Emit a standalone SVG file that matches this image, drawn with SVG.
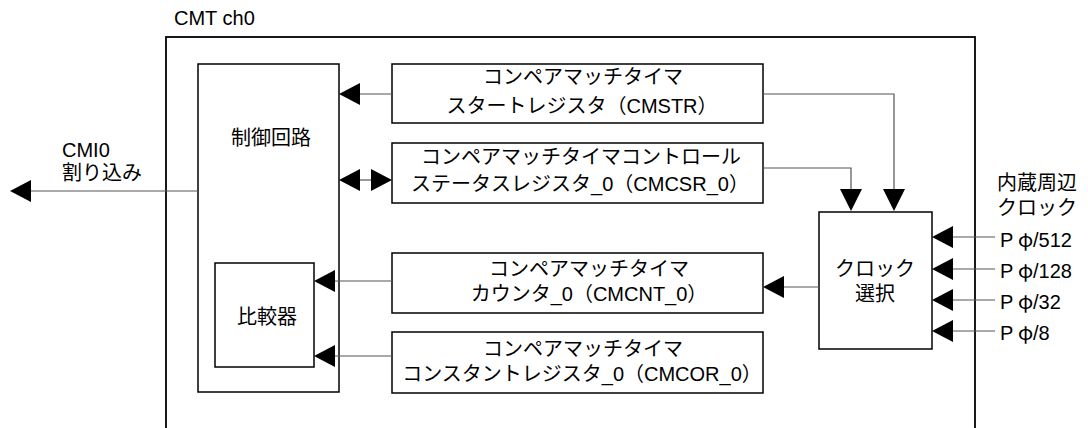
<svg xmlns="http://www.w3.org/2000/svg" width="1088" height="428" viewBox="0 0 1088 428">
<defs>
<style>
text{font-family:"Liberation Sans","Noto Sans CJK JP",sans-serif;font-size:20px;fill:#000}
.c{text-anchor:middle}
.phi{font-family:"Noto Sans CJK JP",sans-serif}
.box{fill:#fff;stroke:#000;stroke-width:1.5}
.ln{fill:none;stroke:#555;stroke-width:1.2}
.ah{fill:#000;stroke:none}
</style>
</defs>
<rect width="1088" height="428" fill="#fff"/>
<g id="cmt">
<rect x="166" y="37" width="809" height="400" fill="none" stroke="#000" stroke-width="1.8"/>
<text x="174" y="25">CMT ch0</text>
</g>
<g id="control">
<rect class="box" x="198" y="64" width="141" height="328"/>
<text class="c" x="271" y="145">制御回路</text>
</g>
<g id="comparator">
<rect class="box" x="215" y="263" width="99" height="104"/>
<text class="c" x="267" y="324">比較器</text>
</g>
<g id="cmstr">
<rect class="box" x="392" y="64" width="371" height="59"/>
<text class="c" x="583" y="84">コンペアマッチタイマ</text>
<text class="c" x="582" y="113">スタートレジスタ（CMSTR）</text>
</g>
<g id="cmcsr">
<rect class="box" x="392" y="143" width="371" height="60"/>
<text class="c" x="581" y="164">コンペアマッチタイマコントロール</text>
<text class="c" x="580" y="191">ステータスレジスタ_0（CMCSR_0）</text>
</g>
<g id="cmcnt">
<rect class="box" x="392" y="253" width="371" height="60"/>
<text class="c" x="589" y="276">コンペアマッチタイマ</text>
<text class="c" x="589" y="301">カウンタ_0（CMCNT_0）</text>
</g>
<g id="cmcor">
<rect class="box" x="392" y="332" width="371" height="61"/>
<text class="c" x="583" y="356">コンペアマッチタイマ</text>
<text class="c" x="582" y="381">コンスタントレジスタ_0（CMCOR_0）</text>
</g>
<g id="clocksel">
<rect class="box" x="819" y="212" width="113" height="137"/>
<text class="c" x="875" y="276">クロック</text>
<text class="c" x="875" y="301">選択</text>
</g>
<g id="labels">
<text x="62" y="157">CMI0</text>
<text x="62" y="180">割り込み</text>
<text x="997" y="190">内蔵周辺</text>
<text x="997" y="215">クロック</text>
<text x="1000" y="247">P<tspan class="phi" x="1018">φ</tspan><tspan x="1033">/512</tspan></text>
<text x="1000" y="278">P<tspan class="phi" x="1018">φ</tspan><tspan x="1033">/128</tspan></text>
<text x="1000" y="309">P<tspan class="phi" x="1018">φ</tspan><tspan x="1033">/32</tspan></text>
<text x="1000" y="340">P<tspan class="phi" x="1018">φ</tspan><tspan x="1033">/8</tspan></text>
</g>
<g id="connectors">
<path class="ln" d="M392 94H358"/>
<path class="ah" d="M339 94L360 83V105Z"/>
<path class="ln" d="M358 180H372"/>
<path class="ah" d="M339 180L360 169V191Z"/>
<path class="ah" d="M392 180L371 169V191Z"/>
<path class="ln" d="M198 191H28"/>
<path class="ah" d="M10 191L31 180V202Z"/>
<path class="ln" d="M763 94H894V192"/>
<path class="ah" d="M894 211L883 189H905Z"/>
<path class="ln" d="M763 168H851V192"/>
<path class="ah" d="M851 211L840 189H862Z"/>
<path class="ln" d="M819 287H783"/>
<path class="ah" d="M763 287L784 276V298Z"/>
<path class="ln" d="M392 281H332"/>
<path class="ah" d="M314 281L335 270V292Z"/>
<path class="ln" d="M392 356H332"/>
<path class="ah" d="M314 356L335 345V367Z"/>
<path class="ln" d="M995 237H951M995 269H951M995 300H951M995 331H951"/>
<path class="ah" d="M932 237L953 226V248Z"/>
<path class="ah" d="M932 269L953 258V280Z"/>
<path class="ah" d="M932 300L953 289V311Z"/>
<path class="ah" d="M932 331L953 320V342Z"/>
</g>
</svg>
